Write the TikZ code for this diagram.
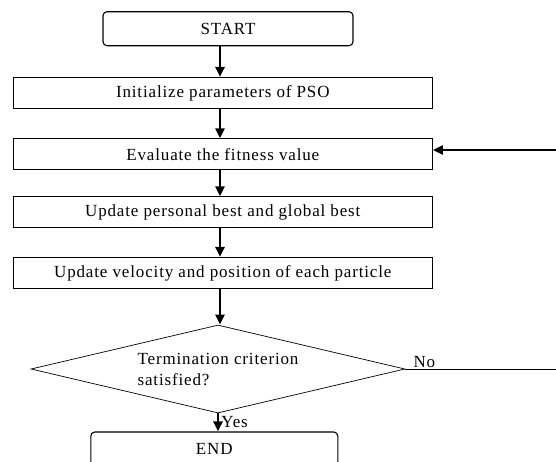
\documentclass[tikz,border=0pt]{standalone}
\usepackage{fontspec}
\setmainfont{Liberation Serif}[LetterSpace=5]
\usetikzlibrary{shapes.geometric,arrows.meta,positioning}

\begin{document}
\begin{tikzpicture}[x=1pt, y=-1pt, font=\fontsize{17}{21}\selectfont,
	stepbox/.style={draw, line width=1.1pt, minimum width=419pt, minimum height=31pt, inner sep=0pt},
	endbox/.style={draw, line width=1.1pt, rounded corners=4pt, minimum height=34pt, inner sep=0pt},
	decision/.style={draw, diamond, aspect=4.25, line width=0.7pt, minimum width=374pt, minimum height=88pt, inner sep=0pt, align=left},
	arr/.style={line width=2.7pt, -{Triangle[length=10pt,width=9pt]}}]
	\useasboundingbox (0,0) rectangle (556,461);
	
	% Draw boxes
	\node[endbox, minimum width=250pt] (start) at (228,28.7) {START};
	\node[stepbox] (init) at (222.8,93) {Initialize parameters of PSO};
	\node[stepbox] (eval) at (222.8,154.3) {Evaluate the fitness value};
	\node[stepbox] (pbest) at (222.8,212.3) {Update personal best and global best};
	\node[stepbox] (move) at (222.8,273) {Update velocity and position of each particle};
	\node[decision] (stop) at (218,369) {Termination criterion\\satisfied?};
	\node[endbox, minimum width=247pt] (finish) at (214.3,449) {END};
	
	% Draw loop ends
	\coordinate (spine) at (220,0);
	\coordinate (loopin) at (556,150);
	\coordinate (loopout) at (556,0);
	
	% Draw arrows
	\draw[arr] (start.south -| spine) -- (init.north -| spine);
	\draw[arr] (init.south -| spine) -- (eval.north -| spine);
	\draw[arr] (eval.south -| spine) -- (pbest.north -| spine);
	\draw[arr] (pbest.south -| spine) -- (move.north -| spine);
	\draw[arr] (move.south -| spine) -- (stop.north -| spine);
	\draw[arr] (stop.south) -- node[right, inner sep=2pt] (yes) {Yes} (stop.south |- finish.north);
	
	% Draw no branch
	\draw[line width=0.7pt] (stop.east) -- (stop.east -| loopout);
	\node[above right=1pt and 8pt of stop.east, inner sep=0pt] (no) {No};
	\draw[arr, line width=2.2pt] (loopin) -- (loopin -| eval.east);
\end{tikzpicture}
\end{document}
